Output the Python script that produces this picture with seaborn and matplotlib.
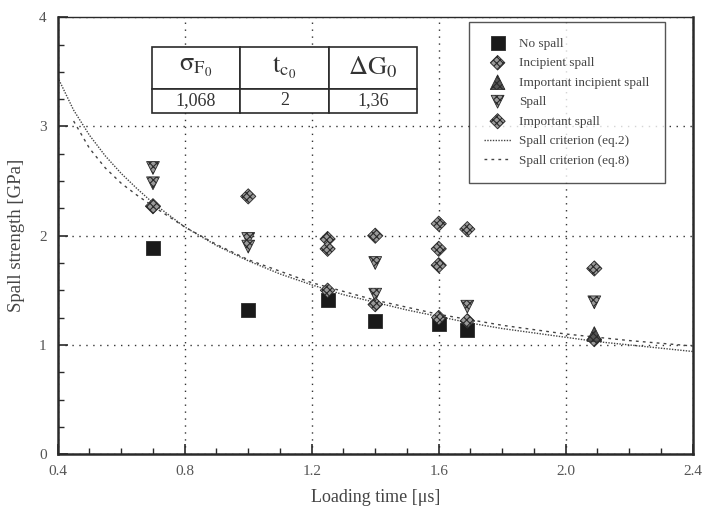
import matplotlib
matplotlib.use("Agg")
import matplotlib.pyplot as plt
import seaborn as sns
import pandas as pd
from matplotlib.ticker import MultipleLocator, FixedLocator

sns.set_theme(style="ticks")
plt.rcParams['font.family'] = ['Liberation Serif', 'DejaVu Serif']
plt.rcParams['mathtext.fontset'] = 'stix'
plt.rcParams['hatch.linewidth'] = 0.8

# ---- data ----
no_spall_x = [0.70, 1.00, 1.25, 1.40, 1.60, 1.69]
no_spall_y = [1.89, 1.32, 1.41, 1.22, 1.19, 1.14]

incipient_x = [1.25, 1.40, 1.60, 1.69, 2.09]
incipient_y = [1.50, 1.37, 1.25, 1.22, 1.05]

imp_incipient_x = [2.09]
imp_incipient_y = [1.10]

spall_x = [0.70, 0.70, 1.00, 1.00, 1.40, 1.40, 1.69, 2.09]
spall_y = [2.62, 2.48, 1.97, 1.90, 1.75, 1.46, 1.35, 1.39]

imp_spall_x = [0.70, 1.00, 1.25, 1.25, 1.40, 1.60, 1.60, 1.60, 1.69, 2.09]
imp_spall_y = [2.27, 2.36, 1.97, 1.88, 2.00, 2.11, 1.88, 1.73, 2.06, 1.70]

eq2_t = [0.40, 0.45, 0.50, 0.55, 0.60, 0.65, 0.70, 0.80, 0.90, 1.00, 1.10,
         1.20, 1.30, 1.40, 1.50, 1.60, 1.70, 1.80, 1.90, 2.00, 2.10, 2.20,
         2.30, 2.40]
eq2_s = [3.45, 3.15, 2.92, 2.73, 2.57, 2.43, 2.30, 2.08, 1.91, 1.77, 1.65,
         1.55, 1.46, 1.39, 1.32, 1.26, 1.20, 1.15, 1.11, 1.07, 1.03, 1.00,
         0.97, 0.94]

eq8_t = [0.45, 0.50, 0.55, 0.60, 0.65, 0.70, 0.80, 0.90, 1.00, 1.20, 1.40,
         1.60, 1.80, 2.00, 2.20, 2.40]
eq8_s = [3.05, 2.80, 2.62, 2.48, 2.37, 2.27, 2.08, 1.92, 1.78, 1.57, 1.41,
         1.28, 1.18, 1.10, 1.04, 0.99]

table_cols = [r'$\mathrm{\sigma}_{\mathrm{F_0}}$', r'$\mathrm{t}_{\mathrm{c_0}}$',
              r'$\mathrm{\Delta G}_{\mathrm{0}}$']
table_vals = ['1,068', '2', '1,36']

x_ticks = [0.4, 0.8, 1.2, 1.6, 2.0, 2.4]
x_tick_labels = ['0.4', '0.8', '1.2', '1.6', '2.0', '2.4']
y_ticks = [0, 1, 2, 3, 4]

# ---- figure ----
fig = plt.figure(figsize=(7.04, 5.08), dpi=100)
ax = fig.add_axes([0.082, 0.106, 0.902, 0.860])

ink = '#2a2a2a'
marker_face = '#9a9a9a'

# curves
sns.lineplot(x=eq2_t, y=eq2_s, ax=ax, color='#444444', lw=1.0,
             linestyle=(0, (1, 1)), label='Spall criterion (eq.2)', sort=False)
sns.lineplot(x=eq8_t, y=eq8_s, ax=ax, color='#444444', lw=1.0,
             linestyle=(0, (2, 3)), label='Spall criterion (eq.8)', sort=False)

def pts(xs, ys, marker, size, face, label, z=3):
    df = pd.DataFrame({'x': xs, 'y': ys})
    return sns.scatterplot(data=df, x='x', y='y', ax=ax, marker=marker, s=size,
                           color=face, edgecolor=ink, linewidth=0.6,
                           label=label, zorder=z)

pts(no_spall_x, no_spall_y, 's', 95, '#1a1a1a', 'No spall')
pts(incipient_x, incipient_y, 'D', 55, marker_face, 'Incipient spall')
pts(imp_incipient_x, imp_incipient_y, '^', 110, '#555555', 'Important incipient spall')
pts(spall_x, spall_y, 'v', 85, marker_face, 'Spall')
pts(imp_spall_x, imp_spall_y, 'D', 60, marker_face, 'Important spall')

for coll in ax.collections:
    fc = coll.get_facecolor()
    if len(fc) and fc[0][0] > 0.3:
        coll.set_hatch('xxxxx')

ax.set_xlim(0.4, 2.4)
ax.set_ylim(0, 4)
ax.xaxis.set_major_locator(FixedLocator(x_ticks))
ax.set_xticklabels(x_tick_labels)
ax.yaxis.set_major_locator(FixedLocator(y_ticks))
ax.xaxis.set_minor_locator(MultipleLocator(0.1))
ax.yaxis.set_minor_locator(MultipleLocator(0.25))
ax.tick_params(which='major', direction='in', length=7, width=1.2,
               colors=ink, labelsize=11, labelcolor='#555555', pad=8)
ax.tick_params(which='minor', direction='in', length=4, width=1.0, colors=ink)
ax.tick_params(axis='x', top=False)
ax.tick_params(axis='y', right=False)

ax.grid(True, which='major', linestyle=(0, (1, 4)), color='#333333', lw=1.0)

for side in ['left', 'bottom', 'right']:
    ax.spines[side].set_linewidth(1.8)
    ax.spines[side].set_color(ink)
ax.spines['top'].set_linewidth(1.0)
ax.spines['top'].set_color(ink)

ax.set_xlabel('Loading time [μs]', fontsize=13, color='#444444', labelpad=8)
ax.set_ylabel('Spall strength [GPa]', fontsize=13.5, color='#444444', labelpad=10)

# legend
handles, labels = ax.get_legend_handles_labels()
order = ['No spall', 'Incipient spall', 'Important incipient spall', 'Spall',
         'Important spall', 'Spall criterion (eq.2)', 'Spall criterion (eq.8)']
hmap = dict(zip(labels, handles))
leg = ax.legend([hmap[k] for k in order], order, loc='upper right',
                bbox_to_anchor=(0.956, 0.99), frameon=True, fancybox=False,
                edgecolor=ink, fontsize=9.5, labelcolor='#444444',
                handlelength=2.0, handletextpad=0.6, borderpad=1.2,
                labelspacing=0.55, borderaxespad=0)
leg.get_frame().set_linewidth(1.0)
leg.get_frame().set_facecolor('white')

# parameter table
tab = ax.table(cellText=[table_vals], colLabels=table_cols, cellLoc='center',
               bbox=[0.148, 0.782, 0.418, 0.151], zorder=6)
tab.auto_set_font_size(False)
for (r, c), cell in tab.get_celld().items():
    cell.set_edgecolor(ink)
    cell.set_linewidth(1.2)
    cell.set_facecolor('white')
    if r == 0:
        cell.set_height(0.64 * 0.151)
        cell.get_text().set_fontsize(19)
    else:
        cell.set_height(0.36 * 0.151)
        cell.get_text().set_fontsize(13)
    cell.get_text().set_color('#333333')

fig.savefig('out.png', dpi=100)
